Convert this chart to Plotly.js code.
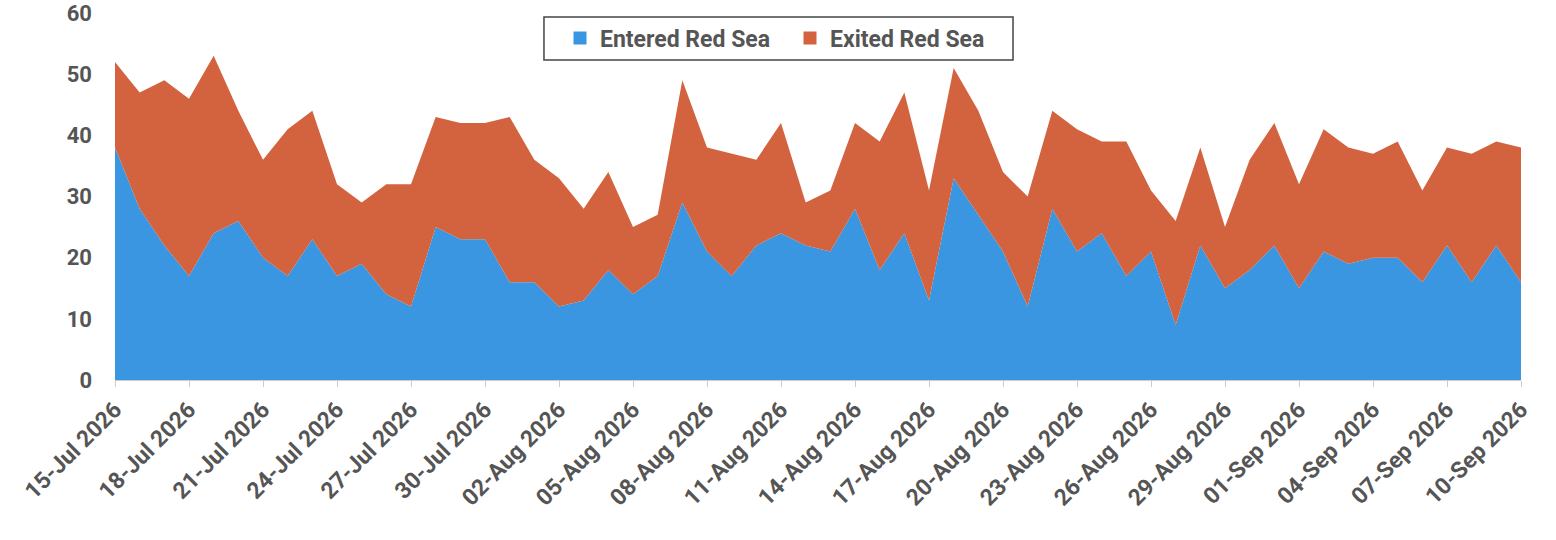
<!DOCTYPE html>
<html>
<head>
<meta charset="utf-8">
<script src="https://cdn.plot.ly/plotly-3.0.1.min.js"></script>
<style>
  html, body { margin: 0; padding: 0; background: #fff; }
  #chart { width: 1556px; height: 540px; }
</style>
</head>
<body>
<div id="chart"></div>
<script>
// daily dates, 15 Jul - 10 Sep 2026
var days = [
  '2026-07-15','2026-07-16','2026-07-17','2026-07-18','2026-07-19','2026-07-20','2026-07-21','2026-07-22',
  '2026-07-23','2026-07-24','2026-07-25','2026-07-26','2026-07-27','2026-07-28','2026-07-29','2026-07-30',
  '2026-07-31','2026-08-01','2026-08-02','2026-08-03','2026-08-04','2026-08-05','2026-08-06','2026-08-07',
  '2026-08-08','2026-08-09','2026-08-10','2026-08-11','2026-08-12','2026-08-13','2026-08-14','2026-08-15',
  '2026-08-16','2026-08-17','2026-08-18','2026-08-19','2026-08-20','2026-08-21','2026-08-22','2026-08-23',
  '2026-08-24','2026-08-25','2026-08-26','2026-08-27','2026-08-28','2026-08-29','2026-08-30','2026-08-31',
  '2026-09-01','2026-09-02','2026-09-03','2026-09-04','2026-09-05','2026-09-06','2026-09-07','2026-09-08',
  '2026-09-09','2026-09-10'
];

var entered = [
  38, 28, 22, 17, 24, 26, 20, 17, 23, 17, 19, 14, 12, 25, 23, 23,
  16, 16, 12, 13, 18, 14, 17, 29, 21, 17, 22, 24, 22, 21, 28, 18,
  24, 13, 33, 27, 21, 12, 28, 21, 24, 17, 21, 9, 22, 15, 18, 22,
  15, 21, 19, 20, 20, 16, 22, 16, 22, 16
];

var exited = [
  14, 19, 27, 29, 29, 18, 16, 24, 21, 15, 10, 18, 20, 18, 19, 19,
  27, 20, 21, 15, 16, 11, 10, 20, 17, 20, 14, 18, 7, 10, 14, 21,
  23, 18, 18, 17, 13, 18, 16, 20, 15, 22, 10, 17, 16, 10, 18, 20,
  17, 20, 19, 17, 19, 15, 16, 21, 17, 22
];

var blue = '#3a96e1';
var red = '#d3623f';
var txt = '#555555';
var fnt = 'Roboto, "Liberation Sans", sans-serif';

var data = [
  {
    x: days, y: entered, name: 'Entered Red Sea',
    type: 'scatter', mode: 'lines', stackgroup: 'one',
    line: {width: 0, color: blue}, fillcolor: blue, showlegend: false
  },
  {
    x: days, y: exited, name: 'Exited Red Sea',
    type: 'scatter', mode: 'lines', stackgroup: 'one',
    line: {width: 0, color: red}, fillcolor: red, showlegend: false
  },
  // legend keys only
  {
    x: [null], y: [null], name: 'Entered Red Sea', type: 'scatter', mode: 'markers',
    marker: {symbol: 'square', size: 13, color: blue}, showlegend: true
  },
  {
    x: [null], y: [null], name: 'Exited Red Sea', type: 'scatter', mode: 'markers',
    marker: {symbol: 'square', size: 13, color: red}, showlegend: true
  }
];

var layout = {
  width: 1556,
  height: 540,
  margin: {l: 115, r: 35, t: 13, b: 160},
  paper_bgcolor: '#fff',
  plot_bgcolor: '#fff',
  font: {family: fnt, color: txt, size: 16, weight: 'bold'},
  showlegend: true,
  legend: {
    orientation: 'h',
    traceorder: 'normal',
    x: 0.3165, xanchor: 'left',
    y: 0.932, yanchor: 'middle',
    bgcolor: 'rgba(0,0,0,0)',
    entrywidth: 185, entrywidthmode: 'pixels',
    font: {family: fnt, size: 23, color: txt, weight: 'bold'}
  },
  xaxis: {
    type: 'date',
    range: ['2026-07-15', '2026-09-10'],
    tick0: '2026-07-15',
    dtick: 3 * 86400000,
    tickformat: '%d-%b %Y',
    tickangle: -45,
    ticks: 'outside', ticklen: 6, tickcolor: '#cccccc', tickwidth: 1,
    showline: true, linecolor: '#cccccc', linewidth: 1,
    showgrid: false, zeroline: false,
    tickfont: {family: fnt, size: 23, color: txt, weight: 'bold'}
  },
  yaxis: {
    range: [0, 60],
    dtick: 10,
    showgrid: false, zeroline: false, showline: false,
    ticks: '', ticklabelstandoff: 22,
    tickfont: {family: fnt, size: 22, color: txt, weight: 'bold'}
  },
  shapes: [
    {
      type: 'rect', xref: 'paper', yref: 'paper',
      x0: 0.3051, x1: 0.6387, y0: 0.8719, y1: 0.9891,
      line: {color: '#444444', width: 1.5},
      fillcolor: 'rgba(0,0,0,0)', layer: 'above'
    }
  ]
};

Plotly.newPlot('chart', data, layout, {displayModeBar: false, staticPlot: true});
</script>
</body>
</html>
